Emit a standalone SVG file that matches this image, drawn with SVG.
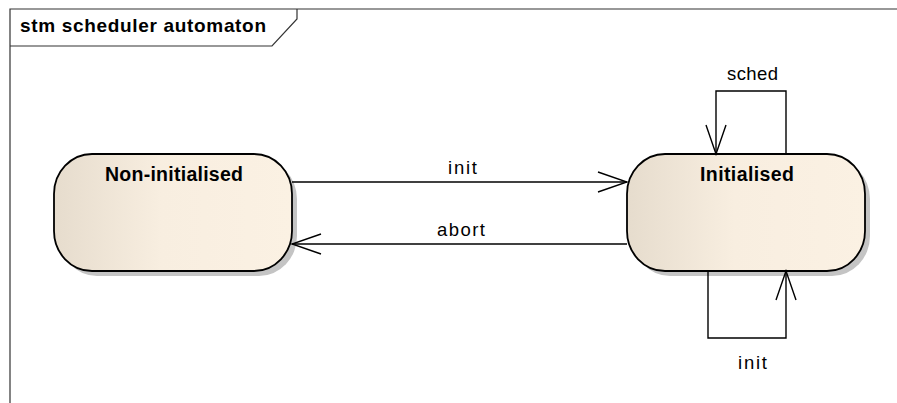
<svg xmlns="http://www.w3.org/2000/svg" width="897" height="403" viewBox="0 0 897 403">
  <defs>
    <linearGradient id="stateFill" x1="0" y1="0" x2="1" y2="0">
      <stop offset="0" stop-color="#e6dccd"/>
      <stop offset="0.45" stop-color="#f8eee0"/>
      <stop offset="1" stop-color="#fbf1e3"/>
    </linearGradient>
    <marker id="open" viewBox="-31 -12 33 24" refX="0" refY="0" markerWidth="33" markerHeight="24" markerUnits="userSpaceOnUse" orient="auto">
      <path d="M-29,-10 L0,0 L-29,10" fill="none" stroke="#000" stroke-width="1.4"/>
    </marker>
    <style>
      .frame { fill: none; stroke: #333333; stroke-width: 1.2; }
      .title { font-family: "Liberation Sans", Arial, sans-serif; font-size: 19px; font-weight: bold; fill: #000; }
      .shadow { fill: #c4c4c4; }
      .state { fill: url(#stateFill); stroke: #000; stroke-width: 1.8; }
      .stateName { font-family: "Liberation Sans", Arial, sans-serif; font-size: 19.5px; font-weight: bold; fill: #000; }
      .conn { fill: none; stroke: #000; stroke-width: 1.4; marker-end: url(#open); }
      .label { font-family: "Liberation Sans", Arial, sans-serif; font-size: 18.5px; fill: #000; }
    </style>
  </defs>
  <rect width="897" height="403" fill="#ffffff"/>

  <g id="frame">
    <path class="frame" d="M10,403 V9 H897"/>
    <path class="frame" d="M10,46 H272 L297,19 V9"/>
    <text class="title" x="20" y="32" textLength="246" lengthAdjust="spacing">stm scheduler automaton</text>
  </g>

  <g id="node-noninitialised">
    <rect class="shadow" x="59" y="159" width="238" height="117" rx="38" ry="40"/>
    <rect class="state" x="54" y="154" width="238" height="117" rx="38" ry="40"/>
    <text class="stateName" x="105" y="181" textLength="138" lengthAdjust="spacing">Non-initialised</text>
  </g>

  <g id="node-initialised">
    <rect class="shadow" x="632" y="159" width="238" height="117" rx="38" ry="40"/>
    <rect class="state" x="627" y="154" width="238" height="117" rx="38" ry="40"/>
    <text class="stateName" x="700" y="181" textLength="94" lengthAdjust="spacing">Initialised</text>
  </g>

  <g id="connectors">
    <path class="conn" d="M292,182 H627"/>
    <text class="label" x="448" y="174" textLength="29" lengthAdjust="spacing">init</text>
    <path class="conn" d="M627,244 H292"/>
    <text class="label" x="437" y="236" textLength="48" lengthAdjust="spacing">abort</text>
    <path class="conn" d="M786,154 V91 H716 V154"/>
    <text class="label" x="727" y="80" textLength="51" lengthAdjust="spacing">sched</text>
    <path class="conn" d="M708,272 V338 H786 V271"/>
    <text class="label" x="738" y="369" textLength="29" lengthAdjust="spacing">init</text>
  </g>
</svg>
